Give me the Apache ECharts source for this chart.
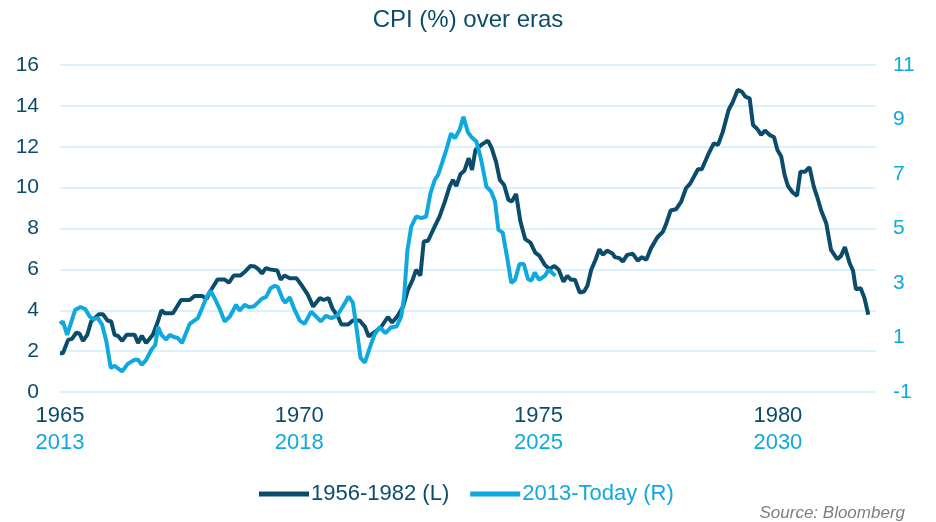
<!DOCTYPE html>
<html>
<head>
<meta charset="utf-8">
<title>CPI (%) over eras</title>
<script src="https://cdn.jsdelivr.net/npm/echarts@6/dist/echarts.min.js"></script>
<style>
  html, body { margin: 0; padding: 0; background: #fff; }
  #chart { width: 936px; height: 522px; }
</style>
</head>
<body>
<div id="chart"></div>
<script>
// x position of each point, as a decimal year on the 1965-1982 scale
const oldYears = [
  1965.0, 1965.06, 1965.17, 1965.25, 1965.34, 1965.41, 1965.48, 1965.57, 1965.65, 1965.72,
  1965.81, 1965.9, 1965.99, 1966.07, 1966.14, 1966.21, 1966.3, 1966.39, 1966.56, 1966.63,
  1966.71, 1966.8, 1966.94, 1967.03, 1967.12, 1967.19, 1967.36, 1967.53, 1967.71, 1967.81,
  1967.97, 1968.06, 1968.16, 1968.29, 1968.44, 1968.53, 1968.63, 1968.77, 1968.87, 1968.98,
  1969.07, 1969.15, 1969.22, 1969.3, 1969.38, 1969.54, 1969.61, 1969.69, 1969.8, 1969.94,
  1970.04, 1970.18, 1970.29, 1970.43, 1970.51, 1970.61, 1970.7, 1970.81, 1970.88, 1971.02,
  1971.12, 1971.26, 1971.37, 1971.45, 1971.56, 1971.71, 1971.85, 1971.94, 1972.05, 1972.17,
  1972.27, 1972.37, 1972.44, 1972.53, 1972.6, 1972.69, 1972.83, 1972.93, 1973.04, 1973.14,
  1973.21, 1973.28, 1973.37, 1973.45, 1973.54, 1973.61, 1973.68, 1973.8, 1973.94, 1974.02,
  1974.11, 1974.19, 1974.28, 1974.37, 1974.44, 1974.53, 1974.62, 1974.72, 1974.83, 1974.93,
  1975.02, 1975.13, 1975.23, 1975.33, 1975.42, 1975.52, 1975.6, 1975.68, 1975.76, 1975.86,
  1975.95, 1976.02, 1976.1, 1976.19, 1976.27, 1976.34, 1976.43, 1976.55, 1976.59, 1976.69,
  1976.76, 1976.85, 1976.97, 1977.07, 1977.16, 1977.25, 1977.35, 1977.48, 1977.6, 1977.67,
  1977.76, 1977.87, 1977.98, 1978.08, 1978.17, 1978.33, 1978.41, 1978.54, 1978.66, 1978.75,
  1978.85, 1978.97, 1979.06, 1979.16, 1979.25, 1979.32, 1979.41, 1979.48, 1979.57, 1979.65,
  1979.73, 1979.83, 1979.92, 1979.99, 1980.07, 1980.14, 1980.21, 1980.31, 1980.4, 1980.47,
  1980.57, 1980.66, 1980.75, 1980.83, 1980.9, 1981.01, 1981.11, 1981.24, 1981.32, 1981.4,
  1981.5, 1981.57, 1981.63, 1981.73, 1981.81, 1981.89
];
// CPI 1956-1982 (left axis)
const oldCpi = [
  1.9, 1.9, 2.55, 2.6, 2.9, 2.85, 2.5, 2.8, 3.45, 3.6,
  3.8, 3.8, 3.5, 3.45, 2.8, 2.75, 2.5, 2.8, 2.8, 2.4,
  2.75, 2.4, 2.8, 3.35, 4.0, 3.85, 3.85, 4.5, 4.5, 4.7,
  4.7, 4.55, 5.0, 5.5, 5.5, 5.35, 5.7, 5.7, 5.9, 6.17,
  6.14, 6.0, 5.8, 6.06, 6.0, 5.95, 5.5, 5.7, 5.57, 5.57,
  5.25, 4.75, 4.18, 4.6, 4.5, 4.6, 4.05, 3.67, 3.3, 3.3,
  3.5, 3.5, 3.2, 2.72, 2.9, 3.18, 3.67, 3.4, 3.7, 4.18,
  5.0, 5.5, 5.98, 5.7, 7.36, 7.4, 8.1, 8.58, 9.3, 10.05,
  10.38, 10.08, 10.67, 10.83, 11.44, 10.87, 11.84, 12.09, 12.3, 11.93,
  11.27, 10.38, 10.13, 9.4, 9.32, 9.69, 8.34, 7.48, 7.31, 6.82,
  6.66, 6.22, 6.01, 6.17, 5.98, 5.4, 5.68, 5.49, 5.49, 4.87,
  4.92, 5.2, 5.98, 6.47, 6.99, 6.71, 6.92, 6.76, 6.6, 6.55,
  6.38, 6.71, 6.76, 6.43, 6.6, 6.47, 7.04, 7.56, 7.85, 8.26,
  8.88, 8.94, 9.32, 9.97, 10.21, 10.9, 10.9, 11.6, 12.17, 12.09,
  12.74, 13.8, 14.2, 14.78, 14.69, 14.45, 14.37, 13.06, 12.87, 12.58,
  12.79, 12.58, 12.46, 11.84, 11.52, 10.62, 10.08, 9.76, 9.6, 10.78,
  10.78, 11.0, 10.05, 9.48, 8.91, 8.26, 6.95, 6.5, 6.66, 7.09,
  6.3, 5.94, 5.03, 5.08, 4.59, 3.78
];

// x position of each point for 2013-today, on the same shifted scale
const newYears = [
  1965.0, 1965.06, 1965.15, 1965.24, 1965.32, 1965.43, 1965.53, 1965.62, 1965.69, 1965.79,
  1965.88, 1965.97, 1966.06, 1966.14, 1966.3, 1966.42, 1966.56, 1966.63, 1966.71, 1966.8,
  1966.91, 1966.99, 1967.05, 1967.12, 1967.22, 1967.29, 1967.38, 1967.46, 1967.55, 1967.71,
  1967.88, 1967.97, 1968.06, 1968.14, 1968.23, 1968.34, 1968.44, 1968.55, 1968.68, 1968.75,
  1968.86, 1968.94, 1969.05, 1969.21, 1969.31, 1969.4, 1969.49, 1969.55, 1969.66, 1969.71,
  1969.8, 1969.9, 1970.01, 1970.11, 1970.25, 1970.45, 1970.56, 1970.67, 1970.79, 1970.91,
  1971.03, 1971.12, 1971.21, 1971.28, 1971.37, 1971.47, 1971.57, 1971.68, 1971.8, 1971.92,
  1972.03, 1972.13, 1972.19, 1972.26, 1972.34, 1972.44, 1972.55, 1972.65, 1972.74, 1972.83,
  1972.9, 1972.98, 1973.07, 1973.17, 1973.25, 1973.35, 1973.43, 1973.52, 1973.59, 1973.7,
  1973.8, 1973.91, 1974.01, 1974.09, 1974.16, 1974.25, 1974.34, 1974.43, 1974.51, 1974.6,
  1974.69, 1974.78, 1974.85, 1974.92, 1975.01, 1975.13, 1975.21, 1975.28, 1975.35
];
// CPI 2013-today (right axis)
const newCpi = [
  1.5, 1.59, 1.1, 1.59, 2.02, 2.12, 2.04, 1.77, 1.68, 1.71,
  1.47, 0.85, -0.12, -0.04, -0.24, 0.04, 0.18, 0.18, 0.0, 0.18,
  0.55, 0.73, 1.38, 1.1, 0.92, 1.1, 1.02, 0.98, 0.8, 1.5,
  1.71, 2.08, 2.48, 2.72, 2.45, 2.04, 1.59, 1.77, 2.2, 1.99,
  2.2, 2.12, 2.14, 2.41, 2.5, 2.81, 2.9, 2.85, 2.38, 2.28,
  2.48, 2.02, 1.62, 1.5, 1.95, 1.59, 1.8, 1.71, 1.8, 2.14,
  2.5, 2.28, 1.16, 0.25, 0.08, 0.61, 1.1, 1.38, 1.16, 1.38,
  1.4, 1.77, 2.5, 4.22, 5.07, 5.44, 5.38, 5.44, 6.29, 6.78,
  6.97, 7.39, 7.88, 8.49, 8.31, 8.62, 9.1, 8.55, 8.37, 8.19,
  7.52, 6.54, 6.35, 5.99, 4.95, 4.85, 3.97, 3.0, 3.12, 3.7,
  3.7, 3.14, 3.09, 3.38, 3.12, 3.26, 3.48, 3.38, 3.26
];

const tickYears = [1965, 1970, 1975, 1980];
const tickModern = ["2013", "2018", "2025", "2030"];
const rightTicks = [-1, 1, 3, 5, 7, 9, 11];
const seriesNames = ["1956-1982 (L)", "2013-Today (R)"];

const DARK = "#0b4c6b";
const LIGHT = "#0fa8df";
const FONT = "Liberation Sans, Arial, sans-serif";

const chart = echarts.init(document.getElementById("chart"));

const option = {
  animation: false,
  title: {
    text: "CPI (%) over eras",
    left: "center",
    top: 3,
    textStyle: { color: DARK, fontSize: 24, fontWeight: "normal", fontFamily: FONT }
  },
  grid: { left: 60, right: 60, top: 65, bottom: 130 },
  legend: {
    data: seriesNames,
    bottom: 12,
    left: 254,
    icon: "rect",
    itemWidth: 50,
    itemHeight: 5,
    itemGap: 21,
    textStyle: { fontSize: 22, fontFamily: FONT, color: "inherit", padding: [0, 0, 0, -3] }
  },
  graphic: [{
    type: "text",
    right: 31,
    bottom: 0,
    style: {
      text: "Source: Bloomberg",
      fill: "#7f7f7f",
      font: "italic 17px " + FONT
    }
  }],
  xAxis: {
    type: "value",
    min: 1965,
    max: 1982.05,
    interval: 5,
    axisLine: { show: false },
    axisTick: { show: false },
    splitLine: { show: false },
    axisLabel: {
      margin: 10,
      showMaxLabel: false,
      formatter: function (v) {
        const i = tickYears.indexOf(v);
        if (i < 0) return "";
        return "{a|" + v + "}\n{b|" + tickModern[i] + "}";
      },
      rich: {
        a: { color: DARK, fontSize: 22, fontFamily: FONT, lineHeight: 27 },
        b: { color: LIGHT, fontSize: 22, fontFamily: FONT, lineHeight: 27 }
      }
    }
  },
  yAxis: [
    {
      type: "value",
      min: 0,
      max: 16,
      interval: 2,
      axisLine: { show: false },
      axisTick: { show: false },
      axisLabel: { color: DARK, fontSize: 21, fontFamily: FONT, margin: 21 },
      splitLine: { lineStyle: { color: "#cdeefb", width: 1.5 } }
    },
    {
      type: "value",
      min: -1,
      max: 11,
      position: "right",
      axisLine: { show: false },
      axisTick: { show: false },
      splitLine: { show: false },
      axisLabel: {
        color: LIGHT, fontSize: 21, fontFamily: FONT, margin: 17,
        customValues: rightTicks
      }
    }
  ],
  series: [
    {
      name: seriesNames[0],
      type: "line",
      yAxisIndex: 0,
      showSymbol: false,
      color: DARK,
      lineStyle: { width: 4, color: DARK },
      data: oldYears.map((x, i) => [x, oldCpi[i]])
    },
    {
      name: seriesNames[1],
      type: "line",
      yAxisIndex: 1,
      showSymbol: false,
      color: LIGHT,
      lineStyle: { width: 4, color: LIGHT },
      data: newYears.map((x, i) => [x, newCpi[i]])
    }
  ]
};

chart.setOption(option);
</script>
</body>
</html>
